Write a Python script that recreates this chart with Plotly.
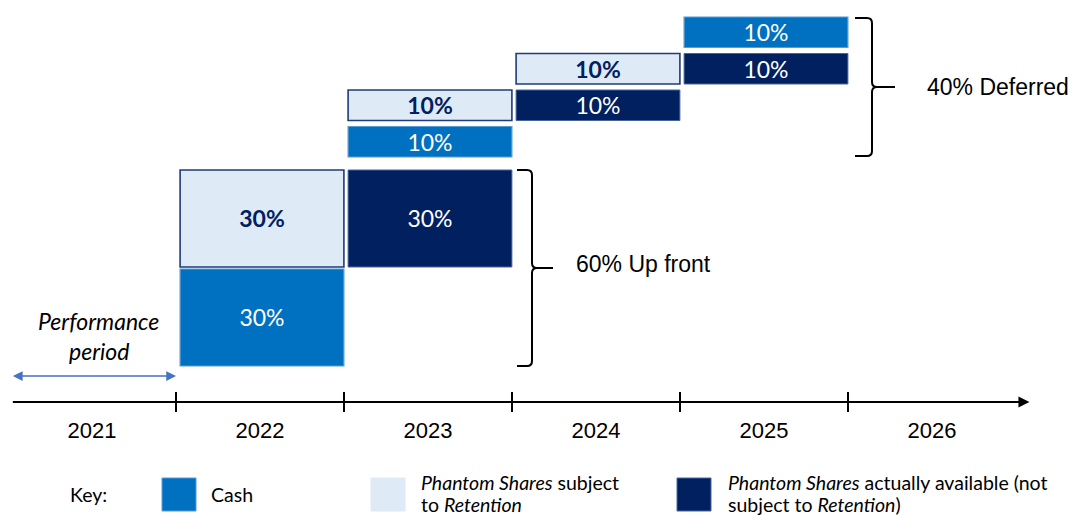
import plotly.graph_objects as go

# ---------------- data ----------------
timeline_years = [2021, 2022, 2023, 2024, 2025, 2026]
year_labels = ["2021", "2022", "2023", "2024", "2025", "2026"]
payout_years = [2022, 2023, 2024, 2025]
cash_pct = [30, 10, 0, 10]
retention_pct = [30, 10, 10, 0]
available_pct = [0, 30, 10, 10]
upfront_total = 60
deferred_total = 40

key_labels = [
    ["Cash"],
    ["<i>Phantom Shares</i> subject", "to <i>Retention</i>"],
    ["<i>Phantom Shares</i> actually available (not", "subject to <i>Retention</i>)"],
]

# ---------------- layout constants ----------------
W, H = 1071, 515
X_REF_PX, X_REF_VAL, PX_PER_YEAR = 176, 2021.5, 168.0
Y1_ZERO_PX, Y1_SCALE = 367, 3.3        # up-front section: px of 0 %, px per %
Y2_BASE_PX, Y2_SCALE = 160, 3.65       # deferred section: px of 60 %, px per %
GAP_PX = {"y": 1.0, "y2": 3.0}
BAR_W = 0.975
BAR_SHIFT = 2 / PX_PER_YEAR
TEXT_DROP_PX = 3

COL = {"cash": "#0070C0", "ret": "#DEEAF6", "avail": "#002060"}
LINE = {"cash": "#5B9BD5", "ret": "#1F3C78", "avail": "#4A64A0"}
LINE_W = {"cash": 1.2, "ret": 1.6, "avail": 1.0}
TXT = {"cash": "white", "ret": "#002060", "avail": "white"}
BOXFONT = "Lato, 'Open Sans', sans-serif"
ARIAL = "'Liberation Sans', Arial, sans-serif"


def px_x(px):
    return px / W


def px_y(py):
    return 1 - py / H


x_range = [X_REF_VAL - X_REF_PX / PX_PER_YEAR, X_REF_VAL + (W - X_REF_PX) / PX_PER_YEAR]
y1_range = [0 - (H - Y1_ZERO_PX) / Y1_SCALE, 0 + Y1_ZERO_PX / Y1_SCALE]
y2_range = [upfront_total - (H - Y2_BASE_PX) / Y2_SCALE, upfront_total + Y2_BASE_PX / Y2_SCALE]
SCALE = {"y": Y1_SCALE, "y2": Y2_SCALE}

# ---------------- build the staircase of boxes ----------------
boxes = []  # (kind, year, base, value)
prev_ret_base = 0
for i, yr in enumerate(payout_years):
    level = prev_ret_base
    ret_base = prev_ret_base
    for kind, arr in (("avail", available_pct), ("cash", cash_pct), ("ret", retention_pct)):
        v = arr[i]
        if v:
            boxes.append((kind, yr, level, v))
            if kind == "ret":
                ret_base = level
            level += v
    prev_ret_base = ret_base

fig = go.Figure()

for axis in ("y", "y2"):
    for kind in ("cash", "ret", "avail"):
        sel = [b for b in boxes if b[0] == kind and
               ((b[2] + b[3] <= upfront_total) == (axis == "y"))]
        if not sel:
            continue
        g = GAP_PX[axis] / SCALE[axis]
        fig.add_trace(go.Bar(
            x=[b[1] for b in sel],
            base=[b[2] + g for b in sel],
            y=[b[3] - 2 * g for b in sel],
            width=BAR_W, offset=-BAR_W / 2 + BAR_SHIFT,
            marker=dict(color=COL[kind], line=dict(color=LINE[kind], width=LINE_W[kind])),
            yaxis=axis, showlegend=False, hoverinfo="skip",
        ))
        txt = [f"{b[3]}%" for b in sel]
        if kind == "ret":
            txt = [f"<b>{t}</b>" for t in txt]
        fig.add_trace(go.Scatter(
            x=[b[1] + BAR_SHIFT for b in sel],
            y=[b[2] + b[3] / 2 - TEXT_DROP_PX / SCALE[axis] for b in sel],
            mode="text", text=txt, textposition="middle center",
            textfont=dict(family=BOXFONT, size=23, color=TXT[kind]),
            yaxis=axis, showlegend=False, hoverinfo="skip",
        ))

# ---------------- braces ----------------
def brace(edge, lo, hi, yref, offs, gap_px):
    dx = lambda p: p / PX_PER_YEAR
    s = SCALE[yref]
    x0, x1, xt = edge + dx(offs[0]), edge + dx(offs[1]), edge + dx(offs[2])
    rx, ry = dx(5), 5 / s
    yt, yb = hi - gap_px / s, lo + gap_px / s
    ym = (yt + yb) / 2
    path = (f"M {x0},{yt} L {x1 - rx},{yt} Q {x1},{yt} {x1},{yt - ry} L {x1},{ym + ry} "
            f"Q {x1},{ym} {x1 + rx},{ym} L {xt},{ym} "
            f"M {x1 + rx},{ym} Q {x1},{ym} {x1},{ym - ry} L {x1},{yb + ry} "
            f"Q {x1},{yb} {x1 - rx},{yb} L {x0},{yb}")
    fig.add_shape(type="path", path=path, xref="x", yref=yref,
                  line=dict(color="black", width=2))
    return ym


up_edge = max(b[1] for b in boxes if b[2] + b[3] <= upfront_total) + 0.5
de_edge = max(b[1] for b in boxes if b[2] + b[3] > upfront_total) + 0.5
ym1 = brace(up_edge, 0, upfront_total, "y", (5, 20, 41), 1)
ym2 = brace(de_edge, upfront_total, upfront_total + deferred_total, "y2", (7, 24, 47), 4)
fig.add_annotation(x=up_edge + 62 / PX_PER_YEAR, y=ym1, xref="x", yref="y", yshift=4,
                   text=f"{upfront_total}% Up front", showarrow=False, xanchor="left",
                   font=dict(family=ARIAL, size=23, color="black"))
fig.add_annotation(x=de_edge + 77 / PX_PER_YEAR, y=ym2, xref="x", yref="y2",
                   text=f"{deferred_total}% Deferred", showarrow=False, xanchor="left",
                   font=dict(family=ARIAL, size=23, color="black"))

# ---------------- timeline ----------------
AXIS_PY = 402
ax_start = timeline_years[0] - 0.48
ax_end = timeline_years[-1] + 0.58
fig.add_annotation(x=ax_end, y=px_y(AXIS_PY), xref="x", yref="paper",
                   ax=ax_start, ay=0, axref="x", ayref="pixel",
                   showarrow=True, arrowhead=2, arrowsize=1.1, arrowwidth=2,
                   arrowcolor="black", text="")
for yr in timeline_years[:-1]:
    fig.add_shape(type="line", x0=yr + 0.5, x1=yr + 0.5, xref="x", yref="paper",
                  y0=px_y(AXIS_PY - 10), y1=px_y(AXIS_PY + 10),
                  line=dict(color="black", width=2))

# performance period
fig.add_annotation(x=payout_years[0] - 0.5, y=px_y(376), xref="x", yref="paper",
                   ax=ax_start, ay=0, axref="x", ayref="pixel",
                   showarrow=True, arrowhead=2, startarrowhead=2, arrowside="end+start",
                   arrowsize=1.3, arrowwidth=1.5, arrowcolor="#4472C4", text="")
for line_txt, py in (("<i>Performance</i>", 321), ("<i>period</i>", 351)):
    fig.add_annotation(x=timeline_years[0] + 0.04, y=px_y(py), xref="paper" if False else "x",
                       yref="paper", text=line_txt, showarrow=False,
                       xanchor="center", yanchor="middle",
                       font=dict(family=BOXFONT, size=23, color="black"))

# ---------------- key ----------------
KEYFONT = dict(family=BOXFONT, size=19.5, color="black")
fig.add_annotation(x=px_x(68), y=px_y(494), xref="paper", yref="paper", text="Key:",
                   showarrow=False, xanchor="left", yanchor="middle", font=KEYFONT)
key_sq_x = [162, 371, 677]
key_txt_x = [209, 419, 726]
for kind, sx, tx, lines in zip(("cash", "ret", "avail"), key_sq_x, key_txt_x, key_labels):
    fig.add_shape(type="rect", xref="paper", yref="paper",
                  x0=px_x(sx), x1=px_x(sx + 34), y0=px_y(478), y1=px_y(511),
                  fillcolor=COL[kind],
                  line=dict(color=LINE[kind] if kind != "ret" else "#DEEAF6", width=1))
    ys = [494] if len(lines) == 1 else [482, 504]
    for t, py in zip(lines, ys):
        fig.add_annotation(x=px_x(tx), y=px_y(py), xref="paper", yref="paper", text=t,
                           showarrow=False, xanchor="left", yanchor="middle", font=KEYFONT)

fig.update_layout(
    width=W, height=H, autosize=False,
    margin=dict(l=0, r=0, t=0, b=0),
    paper_bgcolor="white", plot_bgcolor="white",
    barmode="overlay", showlegend=False,
    xaxis=dict(range=x_range, domain=[0, 1], anchor="free", position=px_y(AXIS_PY),
               tickmode="array", tickvals=timeline_years, ticktext=year_labels,
               ticks="", showline=False, showgrid=False, zeroline=False,
               tickfont=dict(family=ARIAL, size=22, color="black"),
               ticklabelstandoff=13, fixedrange=True),
    yaxis=dict(range=y1_range, visible=False, fixedrange=True, domain=[0, 1]),
    yaxis2=dict(range=y2_range, visible=False, overlaying="y", fixedrange=True),
)

fig.write_html("out.html")
